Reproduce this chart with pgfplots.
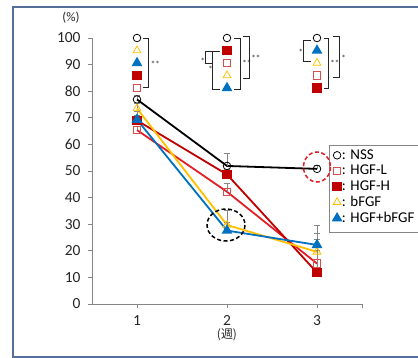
\documentclass[border=0pt]{standalone}
\usepackage{fontspec}
\setmainfont{Carlito}
\newfontfamily\cjk{Noto Sans CJK JP}
\usepackage{pgfplots}
\pgfplotsset{compat=1.18}
\definecolor{frameblue}{RGB}{84,112,150}
\definecolor{cHL}{RGB}{226,30,38}
\definecolor{cHLm}{RGB}{214,80,80}
\definecolor{cHH}{RGB}{192,0,0}
\definecolor{cbF}{RGB}{255,192,0}
\definecolor{cHb}{RGB}{0,112,192}
\definecolor{axgray}{RGB}{134,134,134}
\begin{document}
\begin{tikzpicture}
\begin{axis}[
 at={(0,0)}, anchor=south west,
 scale only axis, width=270bp, height=266bp,
 xmin=0.5, xmax=3.5, ymin=0, ymax=100,
 axis x line=bottom, axis y line=left,
 axis line style={-, axgray, line width=1bp},
 xtick={1,2,3,3.5}, xticklabels={1,2,3,{}},
 ytick={0,10,...,100},
 tick style={axgray, line width=0.8bp},
 tick align=outside, major tick length=4bp,
 ticklabel style={font=\fontsize{15.5}{17}\selectfont, text=black!85},
 yticklabel style={xshift=-4bp},
 xticklabel style={yshift=-4bp},
 /pgf/number format/assume math mode=true,
 clip=false,
 every axis plot/.append style={line width=1.8bp},
 error bars/error bar style={axgray, line width=0.6bp, solid},
 error bars/error mark options={rotate=90, mark size=3bp, axgray, line width=0.6bp, solid},
 legend image code/.code={\draw[#1, only marks] plot coordinates {(0bp,0bp)};},
 legend cell align=left,
 legend style={at={(0.8778,0.5977)}, anchor=north west, draw=none, fill=none,
   font=\fontsize{15}{16}\selectfont, row sep=2.3bp, inner xsep=4bp, inner ysep=3.5bp,
   nodes={inner xsep=1bp, inner ysep=1bp}},
]
\addplot[black, mark=o, mark size=3.8, mark options={line width=0.8bp, fill=white, solid},
  error bars/.cd, y dir=plus, y explicit]
  coordinates {(1,76.9) +- (0,1.5) (2,51.9) +- (0,4.7) (3,50.8) +- (0,1.2)};
\addlegendentry{: NSS}
\addplot[cHL, mark=square, mark size=3.8, mark options={cHLm, line width=0.8bp, fill=white, solid},
  error bars/.cd, y dir=plus, y explicit]
  coordinates {(1,65.4) +- (0,1.5) (2,42.2) +- (0,3.2) (3,15.2) +- (0,9)};
\addlegendentry{: HGF-L}
\addplot[cHH, mark=square*, mark size=3.8, mark options={cHH, solid},
  error bars/.cd, y dir=plus, y explicit]
  coordinates {(1,69.0) +- (0,2) (2,48.7) +- (0,2) (3,11.8) +- (0,8.5)};
\addlegendentry{: HGF-H}
\addplot[cbF, mark=triangle, mark size=4.5, mark options={cbF, line width=0.8bp, fill=white, solid},
  error bars/.cd, y dir=plus, y explicit]
  coordinates {(1,73.5) +- (0,2) (2,29.7) +- (0,5.6) (3,19.6) +- (0,7)};
\addlegendentry{: bFGF}
\addplot[cHb, mark=triangle*, mark size=4.5, mark options={cHb, solid},
  error bars/.cd, y dir=plus, y explicit]
  coordinates {(1,69.3) +- (0,3) (2,27.6) +- (0,3) (3,22.2) +- (0,7.5)};
\addlegendentry{: HGF+bFGF}
% significance marker columns
\addplot[forget plot, only marks, black, mark=o, mark size=3.8, mark options={line width=0.8bp}]
  coordinates {(1,100) (2,100) (3,100)};
\addplot[forget plot, only marks, cbF, mark=triangle, mark size=4.5, mark options={line width=0.8bp}]
  coordinates {(1,95.3) (2,85.9) (3,90.6)};
\addplot[forget plot, only marks, cHb, mark=triangle*, mark size=4.5]
  coordinates {(1,90.6) (2,81.2) (3,95.3)};
\addplot[forget plot, only marks, cHH, mark=square*, mark size=3.8]
  coordinates {(1,85.9) (2,95.3) (3,81.2)};
\addplot[forget plot, only marks, cHLm, mark=square, mark size=3.8, mark options={line width=0.8bp}]
  coordinates {(1,81.2) (2,90.6) (3,85.9)};
\end{axis}
\begin{scope}[shift={(-92bp,304bp)}, x=1bp, y=-1bp]
 % frame
 \draw[frameblue, line width=2bp] (440,6.5) -- (13.3,6.5) -- (13.3,356.5) -- (440,356.5);
 % legend box
 \draw[axgray, line width=0.8bp] (440,145) -- (329,145) -- (329,232) -- (440,232);
 % labels
 \node[font=\fontsize{13}{15}\selectfont, text=black!85] at (71,18) {(\%)};
 \node[font=\fontsize{12}{13}\selectfont\cjk, text=black!85, inner sep=0pt] at (227,335) {(週)};
 % brackets
 \begin{scope}[line width=1bp, black!85]
  \tikzset{st/.style={font=\fontsize{9}{10}\selectfont, inner sep=0.5bp}}
  \draw (143,38) -- (149,38) -- (149,87) -- (143,87);
  \node[st, anchor=west] at (150,64) {**};
  % group 2
  \draw (212,51) -- (206,51) -- (206,63) -- (212,63);
  \node[st, anchor=east] at (206,61) {*};
  \draw (220,51) -- (213,51) -- (213,89) -- (220,89);
  \node[st, anchor=west] at (207.5,69) {*};
  \draw (234,38) -- (241,38) -- (241,89) -- (234,89);
  \node[st, anchor=west] at (241.5,63) {**};
  \draw (243,36) -- (250,36) -- (250,78) -- (243,78);
  \node[st, anchor=west] at (250.5,58) {**};
  % group 3
  \draw (311,40) -- (304,40) -- (304,61) -- (311,61);
  \node[st, anchor=east] at (304,52) {*};
  \draw (324,38) -- (329,38) -- (329,88) -- (324,88);
  \node[st, anchor=west] at (329.5,63) {**};
  \draw (333,36) -- (340,36) -- (340,77) -- (333,77);
  \node[st, anchor=west] at (340.5,58) {*};
 \end{scope}
 % dashed circles
 \draw[black, line width=1.5bp, dash pattern=on 4bp off 2.5bp] (226,225) ellipse [x radius=19, y radius=16];
 \draw[cHL, line width=1.5bp, dash pattern=on 4bp off 2.5bp] (317,167) ellipse [x radius=13.5, y radius=15];
 \pgfresetboundingbox
 \useasboundingbox (0,0) rectangle (418,358);
\end{scope}
\end{tikzpicture}
\end{document}
